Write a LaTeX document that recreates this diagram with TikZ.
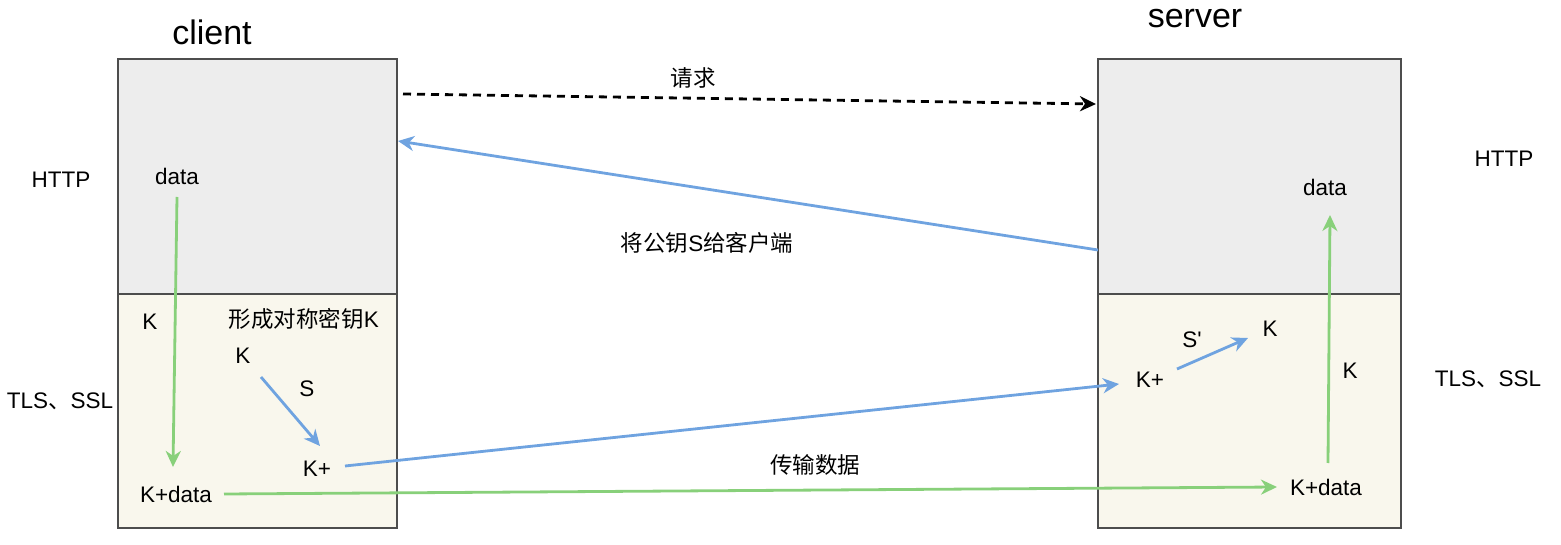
\documentclass[tikz,border=0pt]{standalone}
\usepackage{fontspec}
\setmainfont{Liberation Sans}
\newfontfamily\cjk{Noto Sans CJK SC}
\usetikzlibrary{arrows.meta}
\definecolor{topfill}{HTML}{EDEDED}
\definecolor{botfill}{HTML}{F9F7ED}
\definecolor{boxline}{HTML}{4D4D4D}
\definecolor{bluearr}{HTML}{6FA3E0}
\definecolor{greenarr}{HTML}{88D07A}
\tikzset{
  layerbox/.style={draw=boxline,line width=1.5pt},
  lbl/.style={inner sep=0pt,font=\fontsize{22.5}{26}\selectfont},
  ttl/.style={inner sep=0pt,font=\fontsize{34}{38}\selectfont},
  tip/.style={-{Stealth[length=16pt,width=15pt,inset=5pt]}},
  bluearrow/.style={tip,draw=bluearr,fill=bluearr,line width=2.8pt},
  greenarrow/.style={tip,draw=greenarr,fill=greenarr,line width=2.8pt},
  dasharrow/.style={tip,draw=black,line width=2.8pt,dash pattern=on 8pt off 6pt},
}
\begin{document}
\begin{tikzpicture}[x=1pt,y=-1pt]
\useasboundingbox (0,0) rectangle (1561,545);
% boxes
\filldraw[layerbox,fill=topfill] (118,59) rectangle (397,294);
\filldraw[layerbox,fill=botfill] (118,294) rectangle (397,528);
\filldraw[layerbox,fill=topfill] (1098,59) rectangle (1401,294);
\filldraw[layerbox,fill=botfill] (1098,294) rectangle (1401,528);
% titles
\node[ttl] (client) at (212,32) {client};
\node[ttl] (server) at (1195,19) {server};
% side labels
\node[lbl] (httpL) at (61,180) {HTTP};
\node[lbl] (httpR) at (1504,159) {HTTP};
\node[lbl] (tlsL) at (60,401) {TLS{\cjk 、}SSL};
\node[lbl] (tlsR) at (1488,379) {TLS{\cjk 、}SSL};
% middle labels
\node[lbl] (req) at (693,78) {\cjk 请求};
\node[lbl] (give) at (707,243) {{\cjk 将公钥}S{\cjk 给客户端}};
\node[lbl] (trans) at (815,465) {\cjk 传输数据};
% client texts
\node[lbl] (cdata) at (177,176) {data};
\node[lbl] (cK1) at (150,322) {K};
\node[lbl] (form) at (304,319) {{\cjk 形成对称密钥}K};
\node[lbl] (cK2) at (243,356) {K};
\node[lbl] (cS) at (307,389) {S};
\node[lbl] (cKp) at (317,469) {K+};
\node[lbl] (cKd) at (176,494) {K+data};
% server texts
\node[lbl] (sdata) at (1325,187) {data};
\node[lbl] (sSp) at (1192,340) {S\textquotesingle};
\node[lbl] (sK1) at (1270,329) {K};
\node[lbl] (sKp) at (1150,380) {K+};
\node[lbl] (sK2) at (1350,371) {K};
\node[lbl] (sKd) at (1326,487) {K+data};
% free ends on box edges
\coordinate (reqS) at (403,94);
\coordinate (reqE) at (1096,104);
\coordinate (keyS) at (1098,250);
\coordinate (keyE) at (398,141);
% connectors
\draw[dasharrow] (reqS) -- (reqE);
\draw[bluearrow] (keyS) -- (keyE);
\draw[greenarrow] ([yshift=-21pt]cdata.center) -- ([xshift=-3pt,yshift=27pt]cKd.center);
\draw[bluearrow] ([xshift=18pt,yshift=-21pt]cK2.center) -- ([xshift=3pt,yshift=23pt]cKp.center);
\draw[bluearrow] ([xshift=28pt,yshift=3pt]cKp.center) -- ([xshift=-31pt,yshift=-4pt]sKp.center);
\draw[bluearrow] ([xshift=27pt,yshift=11pt]sKp.center) -- ([xshift=-22pt,yshift=-9pt]sK1.center);
\draw[greenarrow] ([xshift=48pt]cKd.center) -- ([xshift=-49pt]sKd.center);
\draw[greenarrow] ([xshift=2pt,yshift=24pt]sKd.center) -- ([xshift=5pt,yshift=-28pt]sdata.center);
\end{tikzpicture}
\end{document}
